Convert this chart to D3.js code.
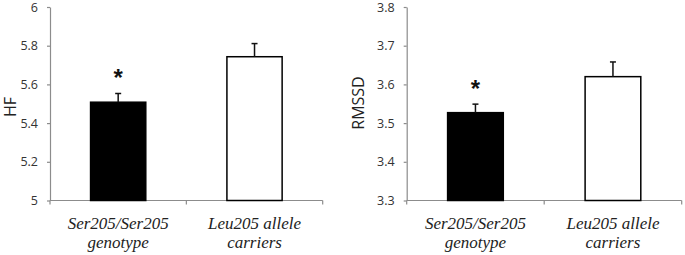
<!DOCTYPE html>
<html>
<head>
<meta charset="utf-8">
<script src="https://cdn.jsdelivr.net/npm/d3@7"></script>
<style>
html,body{margin:0;padding:0;background:#fff;}
svg{display:block;}
.cat{font-family:"Liberation Serif","DejaVu Serif","Times New Roman",serif;font-style:italic;font-size:17px;}
</style>
</head>
<body>
<svg id="chart" width="685" height="255"></svg>
<script>
const categories = ["Ser205/Ser205 genotype", "Leu205 allele carriers"];
const categoryLines = [["Ser205/Ser205", "genotype"], ["Leu205 allele", "carriers"]];
const barFills = ["#000000", "#ffffff"];

const hfValues = [5.508, 5.743];
const hfErrors = [0.045, 0.068];
const hfTicks = [5, 5.2, 5.4, 5.6, 5.8, 6];
const hfTickLabels = ["5", "5.2", "5.4", "5.6", "5.8", "6"];

const rmssdValues = [3.527, 3.620];
const rmssdErrors = [0.022, 0.038];
const rmssdTicks = [3.3, 3.4, 3.5, 3.6, 3.7, 3.8];
const rmssdTickLabels = ["3.3", "3.4", "3.5", "3.6", "3.7", "3.8"];

const significant = [true, false];

const svg = d3.select("#chart");

function drawPanel(opts) {
  const g = svg.append("g");
  const x = d3.scaleBand().domain(categories).range([opts.x0, opts.x1]).padding(0);
  const y = d3.scaleLinear().domain(opts.domain).range([opts.yBottom, opts.yTop]);
  const barW = x.bandwidth() * 0.405;

  // y axis
  const yAxis = d3.axisLeft(y).tickValues(opts.ticks)
    .tickFormat((d, i) => opts.tickLabels[i]).tickSizeOuter(0).tickSizeInner(3).tickPadding(9);
  const ya = g.append("g").attr("transform", `translate(${opts.x0},0)`).call(yAxis);
  ya.select(".domain").attr("stroke", "#8c8c8c").attr("stroke-width", 1.2);
  ya.selectAll(".tick line").attr("stroke", "#8c8c8c").attr("stroke-width", 1.2);
  ya.selectAll(".tick text").attr("fill", "#333").style("font-family", "'Open Sans', sans-serif").style("font-size", "12.5px");

  // x axis
  const xa = g.append("g").attr("transform", `translate(0,${opts.yBottom})`);
  xa.append("line").attr("x1", opts.x0).attr("x2", opts.x1).attr("y1", 0).attr("y2", 0)
    .attr("stroke", "#8c8c8c").attr("stroke-width", 1.2);
  const bounds = [opts.x0, x(categories[1]), opts.x1];
  xa.selectAll("line.tk").data(bounds).enter().append("line").attr("class", "tk")
    .attr("x1", d => d).attr("x2", d => d).attr("y1", 0).attr("y2", 4)
    .attr("stroke", "#8c8c8c").attr("stroke-width", 1.2);

  // bars
  const cx = d => x(d) + x.bandwidth() / 2;
  g.selectAll("rect.bar").data(categories).enter().append("rect").attr("class", "bar")
    .attr("x", d => cx(d) - barW / 2)
    .attr("y", (d, i) => y(opts.values[i]))
    .attr("width", barW)
    .attr("height", (d, i) => opts.yBottom - y(opts.values[i]))
    .attr("fill", (d, i) => barFills[i])
    .attr("stroke", "#000").attr("stroke-width", 1.5);

  // error bars (upper only)
  categories.forEach((c, i) => {
    const top = y(opts.values[i] + opts.errors[i]);
    g.append("line").attr("x1", cx(c)).attr("x2", cx(c))
      .attr("y1", y(opts.values[i])).attr("y2", top)
      .attr("stroke", "#111").attr("stroke-width", 1.5);
    g.append("line").attr("x1", cx(c) - 3).attr("x2", cx(c) + 3)
      .attr("y1", top).attr("y2", top)
      .attr("stroke", "#111").attr("stroke-width", 1.5);
    if (significant[i]) {
      g.append("text").attr("x", cx(c)).attr("y", top - 7)
        .attr("text-anchor", "middle")
        .style("font-family", "'Liberation Sans', Arial, sans-serif")
        .style("font-size", "24px").style("font-weight", "bold")
        .attr("fill", "#111").text("*");
    }
    // category labels
    const t = g.append("text").attr("class", "cat").attr("text-anchor", "middle").attr("fill", "#222");
    categoryLines[i].forEach((ln, k) => {
      t.append("tspan").attr("x", cx(c)).attr("y", opts.yBottom + 28 + k * 19).text(ln);
    });
  });

  // y axis title
  g.append("text")
    .attr("transform", `translate(${opts.titleX},${opts.titleY}) rotate(-90)`)
    .attr("text-anchor", "middle").attr("dy", "0.35em")
    .style("font-family", "'Open Sans', sans-serif").style("font-size", "16px")
    .attr("fill", "#222").text(opts.title);
}

drawPanel({
  x0: 50, x1: 322.7, yTop: 7, yBottom: 200.5,
  domain: [5, 6], ticks: hfTicks, tickLabels: hfTickLabels,
  values: hfValues, errors: hfErrors, title: "HF", titleX: 10, titleY: 107
});

drawPanel({
  x0: 406.7, x1: 681.7, yTop: 7, yBottom: 200.5,
  domain: [3.3, 3.8], ticks: rmssdTicks, tickLabels: rmssdTickLabels,
  values: rmssdValues, errors: rmssdErrors, title: "RMSSD", titleX: 358, titleY: 103
});
</script>
</body>
</html>
